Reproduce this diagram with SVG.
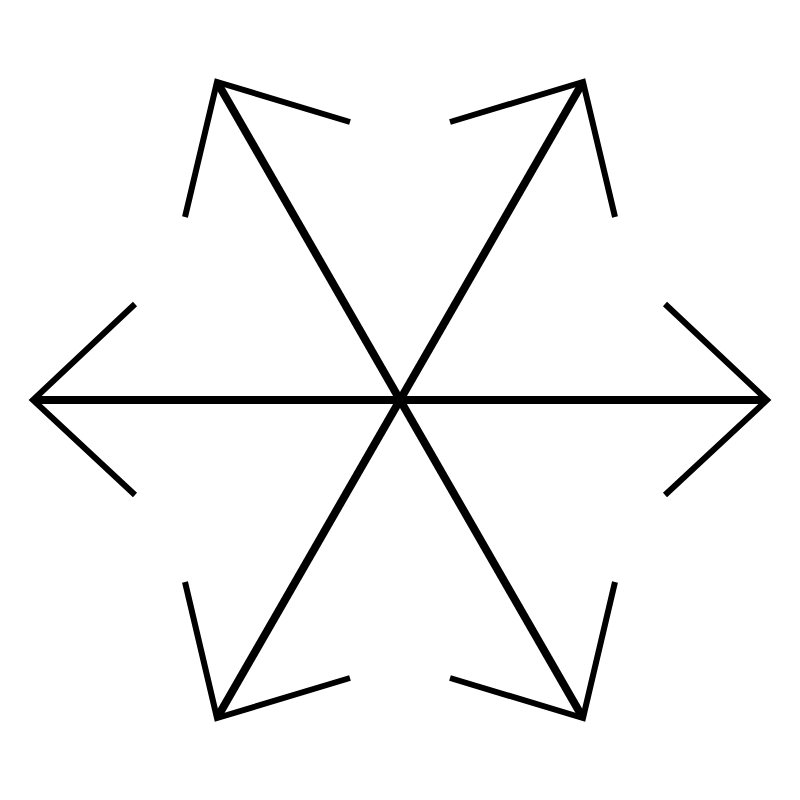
<svg xmlns="http://www.w3.org/2000/svg" width="800" height="800" viewBox="0 0 800 800">
<style>
.shaft{stroke:#000;stroke-width:8;fill:none;stroke-linecap:butt}
.head{stroke:#000;stroke-width:6;fill:none;stroke-linecap:butt;stroke-linejoin:miter}
</style>
<rect width="800" height="800" fill="#fff"/>
<g id="connectors">
<line class="shaft" x1="400" y1="400" x2="33" y2="400"/>
<line class="shaft" x1="400" y1="400" x2="767" y2="400"/>
<line class="shaft" x1="400" y1="400" x2="217" y2="82"/>
<line class="shaft" x1="400" y1="400" x2="583" y2="82"/>
<line class="shaft" x1="400" y1="400" x2="217" y2="718"/>
<line class="shaft" x1="400" y1="400" x2="583" y2="718"/>
<polyline class="head" points="135,304 33,400 135,495"/>
<polyline class="head" points="665,304 767,400 665,495"/>
<polyline class="head" points="350,122 217,82 185,217"/>
<polyline class="head" points="450,122 583,82 615,217"/>
<polyline class="head" points="350,678 217,718 185,582"/>
<polyline class="head" points="450,678 583,718 615,582"/>
</g>
</svg>
